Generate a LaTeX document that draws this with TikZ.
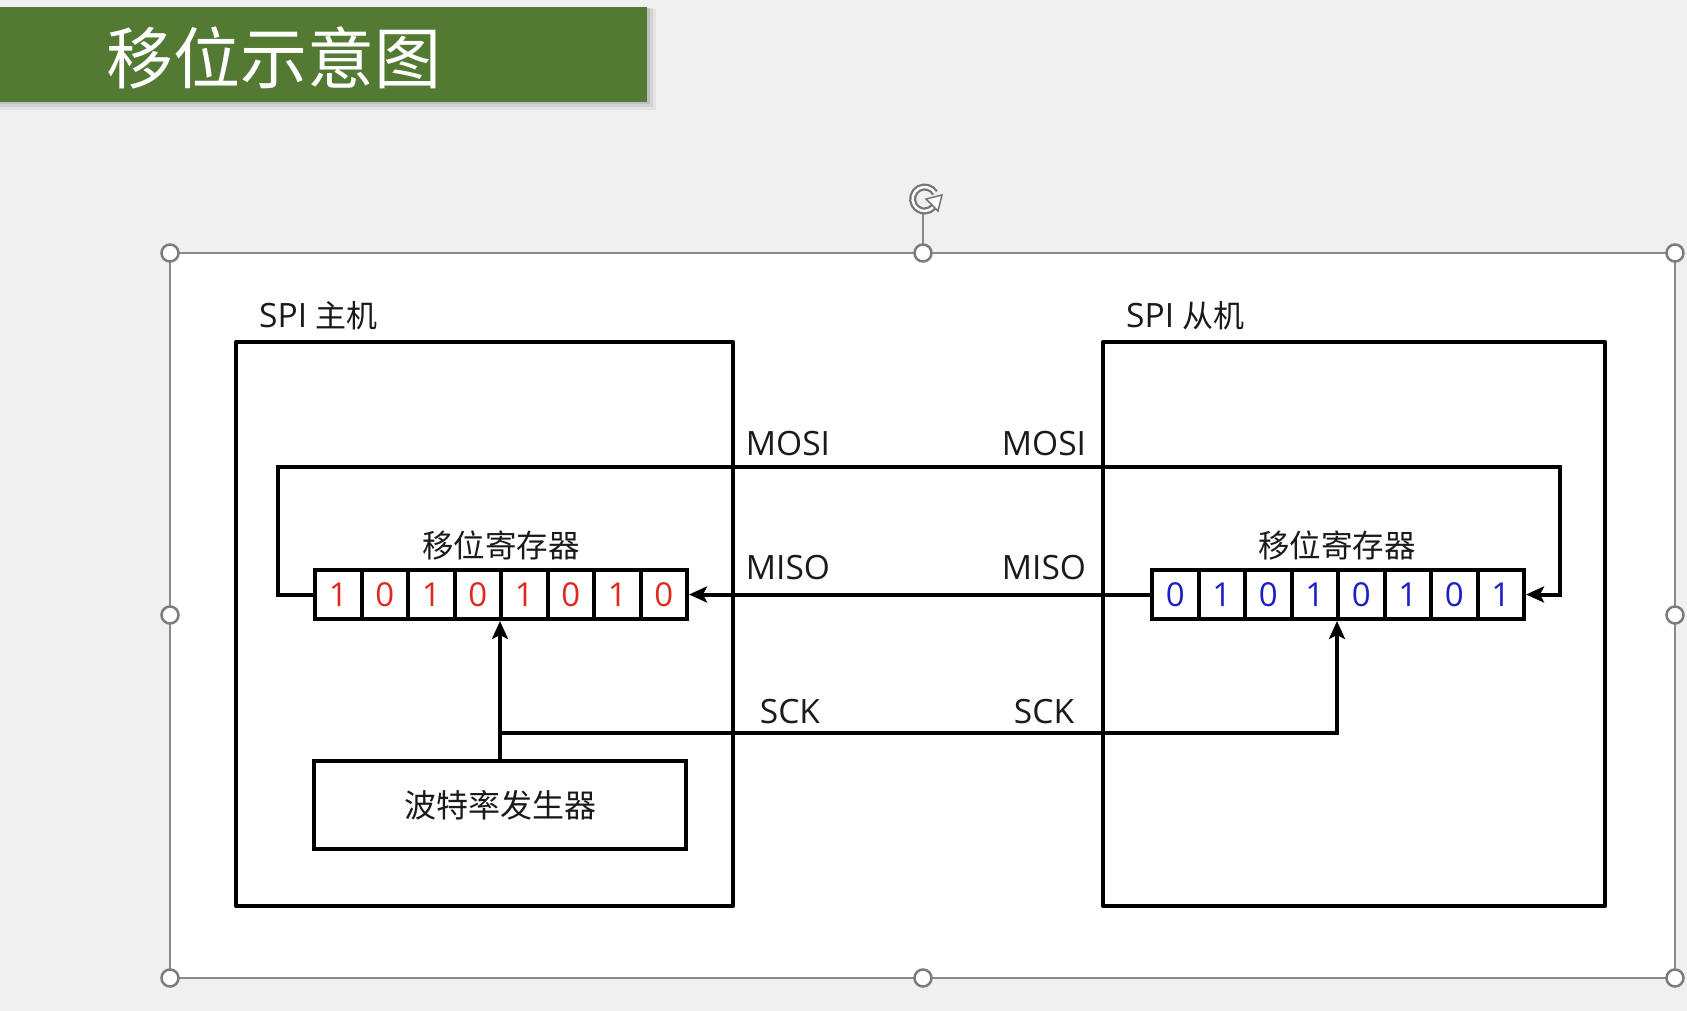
\documentclass[tikz,border=0pt]{standalone}
\usepackage{fontspec}
\setmainfont{Open Sans}
\newfontfamily\cjk{Noto Sans CJK SC}
\usetikzlibrary{arrows.meta}
\definecolor{bgc}{HTML}{F0F0F0}
\definecolor{bannergreen}{HTML}{537A33}
\definecolor{framegray}{HTML}{8A8A8A}
\definecolor{bitred}{HTML}{E0281E}
\definecolor{bitblue}{HTML}{1E1EC8}
\definecolor{ink}{HTML}{1A1A1A}
\tikzset{
  handle/.style={circle,draw=framegray!90!black,fill=white,line width=2.5pt,minimum size=17pt,inner sep=0pt},
  blockbox/.style={draw=black,line width=4pt,line join=round},
  cell/.style={draw=black,line width=4pt,minimum width=46.5pt,minimum height=49pt,inner sep=0pt,font=\fontsize{33}{33}\selectfont,anchor=center},
  lbl/.style={inner sep=0pt,text=ink,font=\fontsize{33.5}{33.5}\selectfont},
  cjklbl/.style={inner sep=0pt,text=ink,font=\cjk\fontsize{31}{31}\selectfont},
  wire/.style={draw=black,line width=4pt},
  arr/.style={wire,-{Stealth[length=18pt,width=16pt,inset=4pt]}}
}
\begin{document}
\begin{tikzpicture}[x=1pt,y=-1pt]
\useasboundingbox (0,0) rectangle (1687,1011);
\fill[bgc] (0,0) rectangle (1687,1011);
% banner with soft shadow
\fill[black,opacity=0.05] (0,9) rectangle (656,110);
\fill[black,opacity=0.07] (0,8) rectangle (653,107);
\fill[black,opacity=0.09] (0,8) rectangle (650,104);
\fill[bannergreen] (0,7) rectangle (647,102);
\node[inner sep=0pt,text=white,font=\cjk\fontsize{67}{67}\selectfont] (title) at (274,58) {移位示意图};
% selection frame
\draw[framegray,line width=1.5pt,fill=white] (170,253) rectangle (1675,978);
\coordinate (rotbase) at (923,211);
\draw[framegray,line width=1.5pt] (rotbase) -- (923,253);
\draw[framegray!85!black,line width=7pt] (935,193) arc[start angle=30,end angle=320,radius=12pt];
\draw[white,line width=2.5pt] (935,193) arc[start angle=30,end angle=320,radius=12pt];
\fill[white,draw=framegray!85!black,line width=1.5pt] (926,199) -- (942,195) -- (938,211) -- cycle;
\foreach \hx/\hy/\hn in {170/253/h1,923/253/h2,1675/253/h3,170/615/h4,1675/615/h5,170/978/h6,923/978/h7,1675/978/h8}{
  \node[handle] (\hn) at (\hx,\hy) {};
}
% master and slave boxes
\draw[blockbox] (236,342) rectangle (733,906);
\draw[blockbox] (1103,342) rectangle (1605,906);
\node[lbl,anchor=west] (mlabel) at (259,316) {SPI {\cjk\fontsize{31}{31}\selectfont 主机}};
\node[lbl,anchor=west] (slabel) at (1126,316) {SPI {\cjk\fontsize{31}{31}\selectfont 从机}};
% registers
\foreach \i/\b in {1/1,2/0,3/1,4/0,5/1,6/0,7/1,8/0}{
  \node[cell,text=bitred] (m\i) at ({315+46.5*(\i-0.5)},594.5) {\b};
}
\foreach \i/\b in {1/0,2/1,3/0,4/1,5/0,6/1,7/0,8/1}{
  \node[cell,text=bitblue] (s\i) at ({1152+46.5*(\i-0.5)},594.5) {\b};
}
\node[cjklbl,font=\cjk\fontsize{31.5}{31.5}\selectfont] (mreg) at (501,545) {移位寄存器};
\node[cjklbl,font=\cjk\fontsize{31.5}{31.5}\selectfont] (sreg) at (1337,545) {移位寄存器};
% baud generator
\node[draw=black,line width=4pt,minimum width=372pt,minimum height=88pt,inner sep=0pt,font=\cjk\fontsize{32}{32}\selectfont,text=ink] (baud) at (500,805) {波特率发生器};
% wire labels
\node[lbl] (mosiL) at (788,444) {MOSI};
\node[lbl] (mosiR) at (1044,444) {MOSI};
\node[lbl] (misoL) at (788,568) {MISO};
\node[lbl] (misoR) at (1044,568) {MISO};
\node[lbl] (sckL) at (790,712) {SCK};
\node[lbl] (sckR) at (1044,712) {SCK};
% MOSI: master register out (left) -> slave register in (right)
\coordinate (mosiA) at (278,594.5);
\coordinate (mosiB) at (278,467);
\coordinate (mosiC) at (1560,467);
\coordinate (mosiD) at (1560,594.5);
\draw[arr,line join=miter] (m1.west) -- (mosiA) -- (mosiB) -- (mosiC) -- (mosiD) -- (s8.east);
% MISO: slave register out (left) -> master register in (right)
\draw[arr] (s1.west) -- (m8.east);
% SCK
\coordinate (sckA) at (500,733);
\coordinate (sckB) at (1337,733);
\draw[arr] (baud.north) -- (baud.north |- m4.south);
\draw[arr,line join=miter] (sckA) -- (sckB) -- (sckB |- s4.south);
\end{tikzpicture}
\end{document}
